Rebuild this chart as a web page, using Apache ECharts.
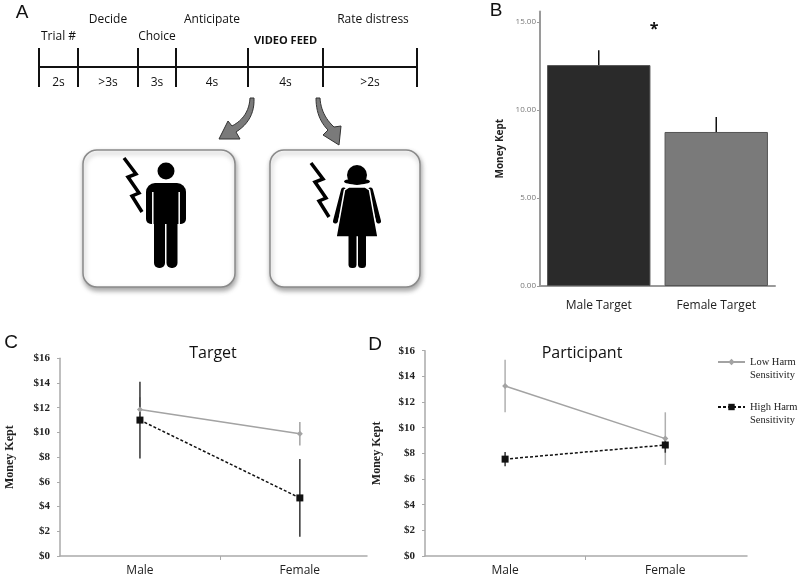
<!DOCTYPE html>
<html>
<head>
<meta charset="utf-8">
<script src="https://cdn.jsdelivr.net/npm/echarts@6/dist/echarts.min.js"></script>
<style>
  html, body { margin: 0; padding: 0; background: #fff; }
  #figure { width: 800px; height: 580px; }
</style>
</head>
<body>
<div id="figure"></div>
<script>
// panel A: trial timeline
var stepLabels = ['Trial #', 'Decide', 'Choice', 'Anticipate', 'VIDEO FEED', 'Rate distress']
var stepDurations = ['2s', '>3s', '3s', '4s', '4s', '>2s']

// panel B: money kept by target gender
var bCategories = ['Male Target', 'Female Target']
var bMeans = [12.55, 8.75]
var bErrors = [0.85, 0.85]
var bTicks = [0, 5, 10, 15]

// panels C and D
var lineCategories = ['Male', 'Female']
var seriesNames = ['Low Harm Sensitivity', 'High Harm Sensitivity']
var targetLow = [11.85, 9.9]
var targetLowErr = [1.0, 0.95]
var targetHigh = [11.0, 4.7]
var targetHighErr = [3.1, 3.15]
var partLow = [13.25, 9.15]
var partLowErr = [2.05, 2.05]
var partHigh = [7.55, 8.65]
var partHighErr = [0.55, 0.6]

// layout of the timeline (pixels)
var tickX = [39, 78, 138, 176, 248, 323, 417]
var labelY = [37, 20, 37, 20, 41, 20]

var myChart = echarts.init(document.getElementById('figure'))

var sans = '"Open Sans", "Liberation Sans", sans-serif'
var serif = '"Liberation Serif", "DejaVu Serif", serif'

function errorRows(means, errs) {
  return means.map(function(m, i) {
    return [i, m - errs[i], m + errs[i]]
  })
}
function pointRows(vals) {
  return vals.map(function(v, i) {
    return [i, v]
  })
}
function errorBarItem(params, api) {
  var top = api.coord([api.value(0), api.value(2)])
  var bottom = api.coord([api.value(0), api.value(1)])
  return {
    type: 'line',
    shape: { x1: top[0], y1: top[1], x2: bottom[0], y2: bottom[1] },
    style: { stroke: api.visual('color'), lineWidth: 1.5 }
  }
}

function txt(text, x, y, font, align) {
  return {
    type: 'text',
    x: x,
    y: y,
    style: {
      text: text,
      font: font,
      fill: '#111',
      textAlign: align || 'center',
      textVerticalAlign: 'middle'
    }
  }
}
// sample a quadratic curve into points
function quad(p0, c, p1) {
  var pts = []
  for (var i = 0; i <= 12; i++) {
    var t = i / 12
    var a = (1 - t) * (1 - t)
    var b = 2 * t * (1 - t)
    var d = t * t
    pts.push([a * p0[0] + b * c[0] + d * p1[0], a * p0[1] + b * c[1] + d * p1[1]])
  }
  return pts
}

var graphic = []
// panel letters
graphic.push(txt('A', 22, 13, '19px "Liberation Sans"'))
graphic.push(txt('B', 496, 11, '19px "Liberation Sans"'))
graphic.push(txt('C', 11, 343, '19px "Liberation Sans"'))
graphic.push(txt('D', 375, 345, '19px "Liberation Sans"'))

// timeline
graphic.push({
  type: 'line',
  shape: { x1: tickX[0], y1: 67, x2: tickX[tickX.length - 1], y2: 67 },
  style: { stroke: '#111', lineWidth: 2 }
})
tickX.forEach(function(x) {
  graphic.push({
    type: 'line',
    shape: { x1: x, y1: 48, x2: x, y2: 87 },
    style: { stroke: '#111', lineWidth: 2 }
  })
})
stepLabels.forEach(function(label, i) {
  var cx = (tickX[i] + tickX[i + 1]) / 2
  var font = label === 'VIDEO FEED' ? 'bold 11px ' + sans : '12px ' + sans
  graphic.push(txt(label, cx + (i === 5 ? 3 : 0), labelY[i], font))
  graphic.push(txt(stepDurations[i], cx, 83, '12px ' + sans))
})

// curved arrows
var leftArrow = quad([250, 98], [249, 117], [232, 126])
  .concat([[228, 121], [219, 139], [240, 139]])
  .concat(quad([236, 132], [255, 120], [254, 98]))
var rightArrow = quad([316, 98], [316, 118], [328, 130])
  .concat([[323, 135], [339, 145], [341, 126]])
  .concat(quad([334, 127], [321, 115], [320, 98]))
;[leftArrow, rightArrow].forEach(function(pts) {
  graphic.push({
    type: 'polygon',
    shape: { points: pts },
    style: { fill: '#7a7a7a', stroke: '#333', lineWidth: 1 }
  })
})

// boxes
;[[83, 150, 152, 137], [270, 150, 150, 137]].forEach(function(b) {
  graphic.push({
    type: 'rect',
    shape: { x: b[0], y: b[1], width: b[2], height: b[3], r: 14 },
    style: {
      fill: '#fff',
      stroke: '#8a8a8a',
      lineWidth: 1.5,
      shadowBlur: 5,
      shadowColor: 'rgba(0,0,0,0.35)',
      shadowOffsetX: 1,
      shadowOffsetY: 3
    }
  })
})

// male figure
graphic.push({ type: 'circle', shape: { cx: 166, cy: 171, r: 8.5 }, style: { fill: '#000' } })
graphic.push({ type: 'rect', shape: { x: 146, y: 183, width: 40, height: 41, r: [9, 9, 5, 5] }, style: { fill: '#000' } })
graphic.push({ type: 'rect', shape: { x: 154, y: 220, width: 11, height: 48, r: [0, 0, 5, 5] }, style: { fill: '#000' } })
graphic.push({ type: 'rect', shape: { x: 166.5, y: 220, width: 11, height: 48, r: [0, 0, 5, 5] }, style: { fill: '#000' } })
graphic.push({ type: 'line', shape: { x1: 152.8, y1: 192, x2: 152.8, y2: 225 }, style: { stroke: '#fff', lineWidth: 1.5 } })
graphic.push({ type: 'line', shape: { x1: 179.2, y1: 192, x2: 179.2, y2: 225 }, style: { stroke: '#fff', lineWidth: 1.5 } })

// female figure
graphic.push({ type: 'line', shape: { x1: 343.5, y1: 190, x2: 335.5, y2: 221 }, style: { stroke: '#000', lineWidth: 5, lineCap: 'round' } })
graphic.push({ type: 'line', shape: { x1: 370.5, y1: 190, x2: 378.5, y2: 221 }, style: { stroke: '#000', lineWidth: 5, lineCap: 'round' } })
graphic.push({
  type: 'polygon',
  shape: { points: [[349, 187], [365, 187], [369.5, 190], [378, 237], [336, 237], [344.5, 190]] },
  style: { fill: '#000', stroke: '#fff', lineWidth: 1.5 }
})
graphic.push({ type: 'circle', shape: { cx: 357, cy: 175, r: 10 }, style: { fill: '#000' } })
graphic.push({ type: 'ellipse', shape: { cx: 357, cy: 181.5, rx: 13, ry: 3 }, style: { fill: '#000' } })
graphic.push({ type: 'rect', shape: { x: 348.5, y: 236, width: 8, height: 32, r: [0, 0, 3.5, 3.5] }, style: { fill: '#000' } })
graphic.push({ type: 'rect', shape: { x: 358, y: 236, width: 8, height: 32, r: [0, 0, 3.5, 3.5] }, style: { fill: '#000' } })

// lightning bolts
;[[0, 0], [187, 5]].forEach(function(d) {
  var pts = [[124, 158], [136, 174], [128, 177], [139, 193], [132, 196], [142, 212]]
  graphic.push({
    type: 'polyline',
    shape: { points: pts.map(function(p) { return [p[0] + d[0], p[1] + d[1]] }) },
    style: { stroke: '#000', lineWidth: 3.5, fill: null, lineJoin: 'miter' }
  })
})

// titles and asterisk
graphic.push(txt('*', 654, 29, 'bold 16px ' + sans))
graphic.push(txt('Target', 213, 353, '16px ' + sans))
graphic.push(txt('Participant', 582, 353, '16px ' + sans))

var grayAxis = { lineStyle: { color: '#9a9a9a', width: 2 } }
var lineAxis = { lineStyle: { color: '#aaa', width: 1.5 } }

function catX(grid, max) {
  return {
    type: 'value',
    gridIndex: grid,
    min: -0.5,
    max: max,
    axisLine: lineAxis,
    axisTick: { show: true, customValues: [0.5], length: 4, lineStyle: { color: '#aaa' } },
    axisLabel: {
      customValues: [0, 1],
      formatter: function(v) {
        return lineCategories[v]
      },
      fontFamily: sans,
      fontSize: 12,
      color: '#222',
      margin: 9
    },
    splitLine: { show: false }
  }
}
function moneyY(grid, gap) {
  return {
    type: 'value',
    gridIndex: grid,
    min: 0,
    max: 16,
    interval: 2,
    name: 'Money Kept',
    nameLocation: 'middle',
    nameGap: gap,
    nameRotate: 90,
    nameTextStyle: { fontFamily: serif, fontWeight: 'bold', fontSize: 12, color: '#222' },
    axisLine: { show: true, onZero: false, lineStyle: { color: '#aaa', width: 1.5 } },
    axisTick: { show: true, length: 3, lineStyle: { color: '#aaa' } },
    axisLabel: {
      formatter: '${value}',
      fontFamily: serif,
      fontWeight: 'bold',
      fontSize: 11,
      color: '#222',
      margin: 10
    },
    splitLine: { show: false }
  }
}
function lineSeries(name, axis, vals) {
  var low = name === seriesNames[0]
  return {
    name: name,
    type: 'line',
    xAxisIndex: axis,
    yAxisIndex: axis,
    data: pointRows(vals),
    symbol: low ? 'diamond' : 'rect',
    symbolSize: low ? 6 : 7,
    color: low ? '#a3a3a3' : '#111',
    lineStyle: { width: 1.5, type: low ? 'solid' : [3, 2] },
    z: 3
  }
}
function errSeries(axis, means, errs, color) {
  return {
    type: 'custom',
    xAxisIndex: axis,
    yAxisIndex: axis,
    renderItem: errorBarItem,
    encode: { x: 0, y: [1, 2] },
    itemStyle: { color: color },
    data: errorRows(means, errs),
    z: 2
  }
}

option = {
  animation: false,
  backgroundColor: '#fff',
  graphic: graphic,
  grid: [
    { left: 540, top: 11.4, width: 235, height: 274.6 },
    { left: 60, top: 358.3, width: 307, height: 197.7 },
    { left: 425, top: 350.7, width: 322, height: 205.3 }
  ],
  legend: {
    data: seriesNames,
    orient: 'vertical',
    left: 717,
    top: 342.5,
    padding: 0,
    itemWidth: 27,
    itemHeight: 8,
    itemGap: 6,
    formatter: function(name) {
      return '\n' + name.replace(' Sensitivity', '\nSensitivity')
    },
    textStyle: { fontFamily: serif, fontSize: 10.5, color: '#222', lineHeight: 13 }
  },
  xAxis: [
    {
      type: 'category',
      gridIndex: 0,
      data: bCategories,
      axisLine: grayAxis,
      axisTick: { alignWithLabel: true, length: 3, lineStyle: { color: '#ccc' } },
      axisLabel: { fontFamily: sans, fontSize: 12, color: '#222', margin: 14 }
    },
    catX(1, 1.42),
    catX(2, 1.51)
  ],
  yAxis: [
    {
      type: 'value',
      gridIndex: 0,
      min: 0,
      max: 15.6,
      interval: 5,
      name: 'Money Kept',
      nameLocation: 'middle',
      nameGap: 35,
      nameRotate: 90,
      nameTextStyle: { fontFamily: sans, fontWeight: 'bold', fontSize: 10, color: '#222' },
      axisLine: { show: true, lineStyle: { color: '#9a9a9a', width: 2 } },
      axisTick: { show: true, customValues: bTicks, length: 3, lineStyle: { color: '#9a9a9a' } },
      axisLabel: {
        customValues: bTicks,
        formatter: function(v) {
          return v.toFixed(2)
        },
        fontFamily: sans,
        fontSize: 8,
        color: '#777',
        margin: 4
      },
      splitLine: { show: false }
    },
    moneyY(1, 44),
    moneyY(2, 42)
  ],
  series: [
    {
      type: 'bar',
      xAxisIndex: 0,
      yAxisIndex: 0,
      barCategoryGap: '12%',
      data: bMeans.map(function(v, i) {
        return {
          value: v,
          itemStyle: { color: i === 0 ? '#2a2a2a' : '#7a7a7a', borderColor: '#555', borderWidth: 1 }
        }
      })
    },
    errSeries(0, bMeans, bErrors, '#111'),
    errSeries(1, targetLow, targetLowErr, '#a3a3a3'),
    errSeries(1, targetHigh, targetHighErr, '#333'),
    lineSeries(seriesNames[0], 1, targetLow),
    lineSeries(seriesNames[1], 1, targetHigh),
    errSeries(2, partLow, partLowErr, '#b0b0b0'),
    errSeries(2, partHigh, partHighErr, '#333'),
    lineSeries(seriesNames[0], 2, partLow),
    lineSeries(seriesNames[1], 2, partHigh)
  ]
}
myChart.setOption(option, true)
window.onresize = function() {
  myChart.resize()
}
</script>
</body>
</html>
